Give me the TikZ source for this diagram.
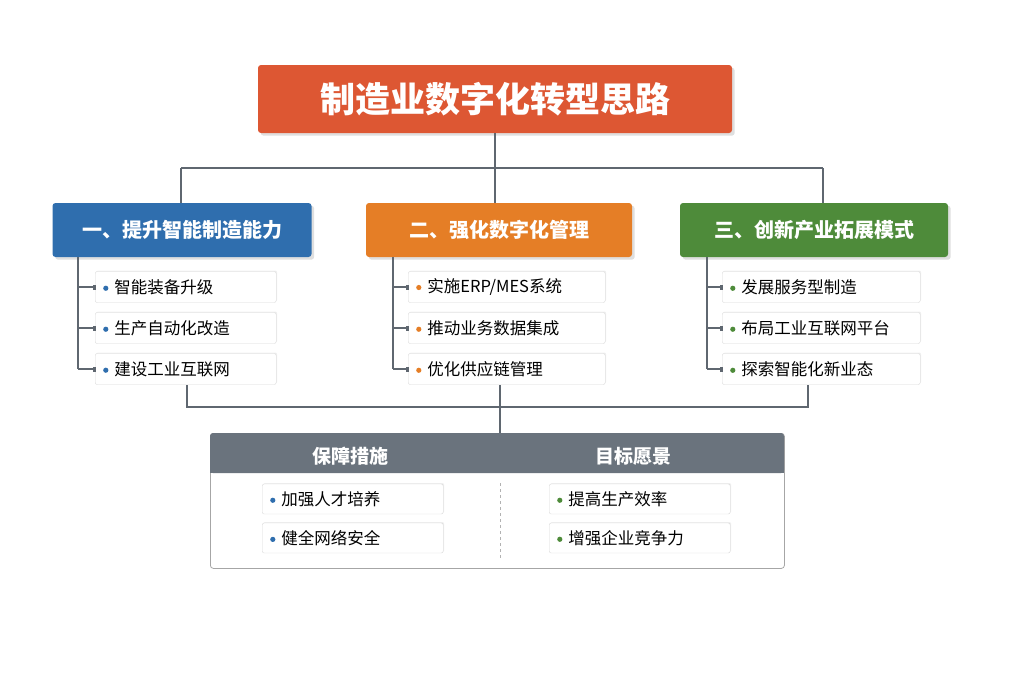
\documentclass[tikz,border=0pt]{standalone}
\usepackage{fontspec}
\setmainfont{Noto Sans CJK SC}
\usetikzlibrary{positioning,shadows}
\definecolor{titlered}{HTML}{DD5733}
\definecolor{blueh}{HTML}{2F6EAE}
\definecolor{orangeh}{HTML}{E57E26}
\definecolor{greenh}{HTML}{4E8B3A}
\definecolor{greyh}{HTML}{6A737D}
\definecolor{linec}{HTML}{5F6770}
\newcommand{\bdot}[1]{\tikz[baseline=-5pt,x=1pt,y=1pt]\fill[#1] (0,0) circle (2.6);\hspace{6pt}}
\begin{document}
\begin{tikzpicture}[x=1pt,y=-1pt,
          title/.style={rounded corners=3,fill=titlered,text=white,font=\bfseries\fontsize{35}{40}\selectfont,minimum width=474,minimum height=68,drop shadow={opacity=.25}},
          head/.style={rounded corners=3,fill=#1,text=white,font=\bfseries\fontsize{20}{24}\selectfont,minimum height=54,drop shadow={opacity=.25}},
          item/.style={draw=black!15,fill=white,rounded corners=2,minimum height=31,text width=#1,align=left,inner xsep=8,font=\fontsize{16.5}{19}\selectfont,drop shadow={opacity=.12,shadow xshift=1,shadow yshift=-1}},
          conn/.style={draw=linec,line width=1.3}
        ]
        \useasboundingbox (0,0) rectangle (1024,683);
        %title
        \node[title] (t) at (495,99) {制造业数字化转型思路};
        %heads
        \node[head=blueh,minimum width=259] (h1) at (182,230) {一、提升智能制造能力};
        \node[head=orangeh,minimum width=266] (h2) at (499,230) {二、强化数字化管理};
        \node[head=greenh,minimum width=268] (h3) at (814,230) {三、创新产业拓展模式};
        \coordinate (j) at (495,168);
        \path[conn] (t.south) -- (j) (181,168) -- (823,168)
          (181,168) -- (181,203) (823,168) -- (823,203) (j) -- (495,203);
        %items
        \foreach \c/\x/\w/\lx/\col/\a/\b/\cc in {
            1/95/181/78/blueh/智能装备升级/生产自动化改造/建设工业互联网,
            2/408/197/393/orangeh/{实施ERP/MES系统}/推动业务数据集成/优化供应链管理,
            3/722/198/707/greenh/发展服务型制造/布局工业互联网平台/探索智能化新业态}{
          \foreach \i/\y/\txt in {1/287/\a,2/328/\b,3/369/\cc}{
            \node[item=\w pt-16pt,anchor=west] (i\c\i) at (\x,\y) {\bdot{\col}\txt};
            \path[conn] (\lx,\y) -- (i\c\i.west);
            \fill[linec] (i\c\i.west) ++(-2,-2.5) rectangle ++(2.5,5);
          }
          \path[conn] (\lx,257) -- (\lx,369);
        }
        %bottom links
        \path[conn] (187,385) -- (187,407) -- (808,407) -- (808,385) (500,385) -- (500,433);
        %panel
        \node[draw=black!35,fill=white,rounded corners=3,minimum width=574,minimum height=135,anchor=north west,line width=.8] (p) at (210,433) {};
        \fill[greyh,rounded corners=3] (210,433) rectangle (784,473);
        \fill[greyh] (210,460) rectangle (784,473);
        \node[text=white,font=\bfseries\fontsize{19}{22}\selectfont] (g1) at (350,456) {保障措施};
        \node[text=white,font=\bfseries\fontsize{19}{22}\selectfont] (g2) at (633,456) {目标愿景};
        \draw[black!30,dashed] (500,483) -- (500,560);
        \node[item=165pt,anchor=west,minimum height=30] (b1) at (262,499) {\bdot{blueh}加强人才培养};
        \node[item=165pt,anchor=west,minimum height=30] (b2) at (262,538) {\bdot{blueh}健全网络安全};
        \node[item=165pt,anchor=west,minimum height=30] (b3) at (549,499) {\bdot{greenh}提高生产效率};
        \node[item=165pt,anchor=west,minimum height=30] (b4) at (549,538) {\bdot{greenh}增强企业竞争力};
\end{tikzpicture}
\end{document}
